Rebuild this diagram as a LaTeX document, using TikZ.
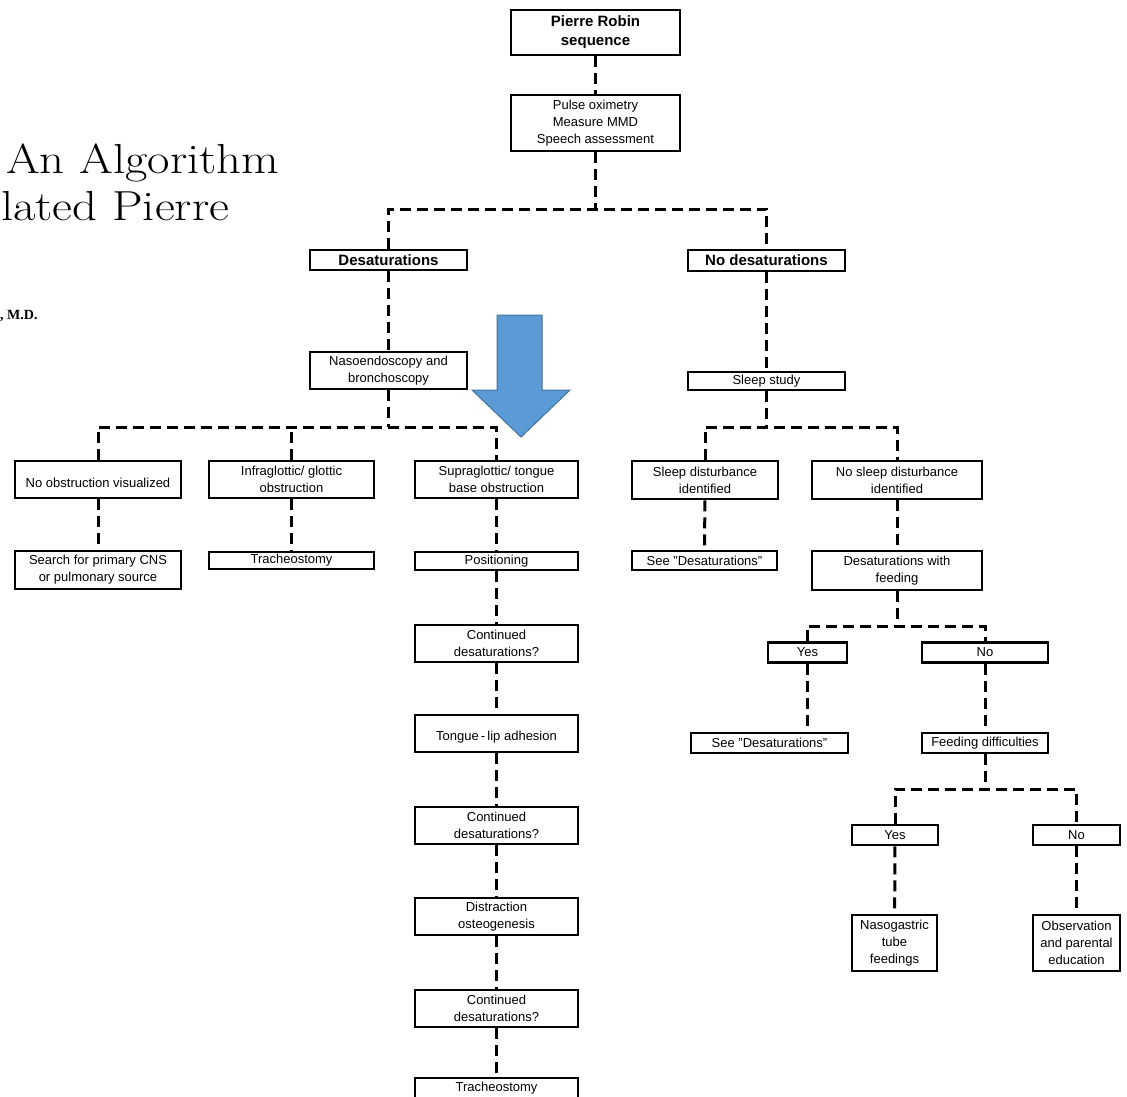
\documentclass[tikz,border=0pt]{standalone}
\usepackage{fontspec}
\setsansfont{Liberation Sans}
\newfontfamily\bylinefont{Liberation Serif}
\usetikzlibrary{positioning,calc}
\definecolor{arrowFill}{HTML}{5B9BD5}
\definecolor{arrowEdge}{HTML}{41719C}

\begin{document}
\begin{tikzpicture}[x=1pt,y=-1pt,
      box/.style 2 args={draw,line width=2.8pt,align=center,inner sep=1pt,
        minimum width=#1pt,minimum height=#2pt,
        font=\sffamily\fontsize{13}{17}\selectfont},
      bbox/.style 2 args={box={#1}{#2},font=\sffamily\bfseries\fontsize{15}{19}\selectfont},
      link/.style={line width=3pt,dash pattern=on 11pt off 6pt},
      title/.style={anchor=base west,inner sep=0pt,font=\fontsize{42}{42}\selectfont}
    ]
    \useasboundingbox (0,0) rectangle (1127,1096);

    % cut-off page heading
    \node[title] (ttlA) at (6,173) {\scalebox{1.16}[1]{An Algorithm}};
    \node[title] (ttlB) at (1,220) {\scalebox{1.16}[1]{lated Pierre}};
    \node[anchor=base west,inner sep=0pt,font=\bylinefont\bfseries\fontsize{14}{14}\selectfont] (auth) at (0,319) {, M.D.};

    % top of the tree
    \node[bbox={169}{45}] (prs) at (595.5,32.5) {Pierre Robin\\sequence};
    \node[box={169}{56}] (pulse) at (595.5,123) {Pulse oximetry\\Measure MMD\\Speech assessment};
    \node[bbox={157}{20}] (des) at (388.5,260) {Desaturations};
    \node[bbox={157}{21}] (nodes) at (766.5,260.5) {No desaturations};
    \node[box={157}{37}] (naso) at (388.5,370.5) {Nasoendoscopy and\\bronchoscopy};
    \node[box={157}{18}] (sleep) at (766.5,381) {Sleep study};

    % desaturations branch
    \node[box={166}{37}] (noobs) at (98,479.5) {\mbox{}\\No obstruction visualized};
    \node[box={165}{37}] (infra) at (291.5,479.5) {Infraglottic/ glottic\\obstruction};
    \node[box={163}{37}] (supra) at (496.5,479.5) {Supraglottic/ tongue\\base obstruction};
    \node[box={166}{38}] (search) at (98,570) {Search for primary CNS\\or pulmonary source};
    \node[box={165}{17}] (trach1) at (291.5,560.5) {Tracheostomy};
    \node[box={163}{18}] (posit) at (496.5,561) {Positioning};
    \node[box={163}{37}] (cont1) at (496.5,643.5) {Continued\\desaturations?};
    \node[box={163}{37}] (tla) at (496.5,733.5) {\mbox{}\\Tongue\,-\,lip adhesion};
    \node[box={163}{37}] (cont2) at (496.5,825.5) {Continued\\desaturations?};
    \node[box={163}{37}] (distr) at (496.5,916.5) {Distraction\\osteogenesis};
    \node[box={163}{37}] (cont3) at (496.5,1008.5) {Continued\\desaturations?};
    \node[box={163}{20}] (trach2) at (496.5,1088) {Tracheostomy};

    % no desaturations branch
    \node[box={146}{38}] (sdi) at (705,480) {Sleep disturbance\\identified};
    \node[box={170}{38}] (nsdi) at (897,480) {No sleep disturbance\\identified};
    \node[box={145}{19}] (seed1) at (704.5,560.5) {See "Desaturations"};
    \node[box={170}{39}] (dwf) at (897,570.5) {Desaturations with\\feeding};
    \node[box={79}{20}] (yes1) at (807.5,652.5) {Yes};
    \node[box={126}{20}] (no1) at (985,652.5) {No};
    \node[box={157}{20}] (seed2) at (769.5,743) {See "Desaturations"};
    \node[box={126}{20}] (feed) at (985,743) {Feeding difficulties};
    \node[box={86}{20}] (yes2) at (895,835) {Yes};
    \node[box={87}{20}] (no2) at (1076.5,835) {No};
    \node[box={85}{56}] (ngt) at (894.5,943) {Nasogastric\\tube\\feedings};
    \node[box={87}{56}] (obs) at (1076.5,943) {Observation\\and parental\\education};

    % branch points
    \coordinate (j1) at (595.5,209);
    \coordinate (j2) at (388.5,427);
    \coordinate (j3) at (766.5,427);
    \coordinate (j4) at (897,626);
    \coordinate (j5) at (985,789);

    \draw[link] (prs) -- (pulse);
    \draw[link] (pulse) -- (j1);
    \draw[link] (des.north) |- (j1) -| (nodes.north);
    \draw[link] (des) -- (naso);
    \draw[link] (nodes) -- (sleep);

    \draw[link] (naso) -- (j2);
    \draw[link] (noobs.north) |- (j2) -| (supra.north);
    \draw[link] (infra.north) -- (infra.north |- j2);
    \draw[link] (noobs) -- (search);
    \draw[link] (infra) -- (trach1);
    \foreach \u/\v in {supra/posit,posit/cont1,cont1/tla,tla/cont2,cont2/distr,distr/cont3,cont3/trach2}{
      \draw[link] (\u) -- (\v);
    }

    \draw[link] (sleep) -- (j3);
    \draw[link] (sdi.north) |- (j3) -| (nsdi.north);
    \draw[link] (sdi) -- (seed1);
    \draw[link] (nsdi) -- (dwf);
    \draw[link] (dwf) -- (j4);
    \draw[link] (yes1.north) |- (j4) -| (no1.north);
    \draw[link] (yes1.south) -- (yes1.south |- seed2.north);
    \draw[link] (no1) -- (feed);
    \draw[link] (feed) -- (j5);
    \draw[link] (yes2.north) |- (j5) -| (no2.north);
    \draw[link] (yes2) -- (ngt);
    \draw[link] (no2) -- (obs);

    % blue pointer
    \filldraw[fill=arrowFill,draw=arrowEdge,line width=1pt]
      (497,315) -- (542,315) -- (542,390) -- (570,390) -- (521,437)
      -- (472,390) -- (497,390) -- cycle;
  \end{tikzpicture}
\end{document}
